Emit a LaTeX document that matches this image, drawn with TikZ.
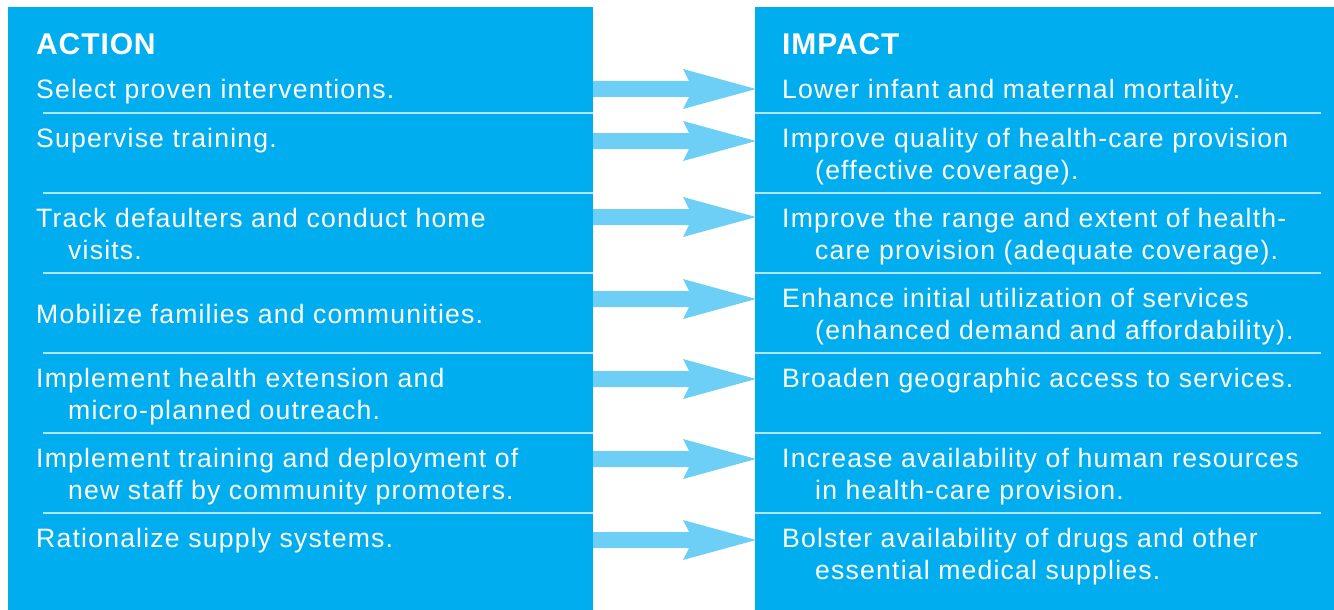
\documentclass[tikz,border=0pt]{standalone}
\usepackage{fontspec}
\setmainfont{Liberation Sans}[LetterSpace=4.5]
\newfontfamily\titlefont{Liberation Sans}[LetterSpace=3]
\definecolor{panelblue}{HTML}{00AEEF}
\definecolor{arrowblue}{HTML}{6DCFF6}
\definecolor{seplight}{HTML}{B3E5FA}
\tikzset{
  panel/.style={fill=panelblue, draw=none},
  sepline/.style={draw=seplight, line width=1.5pt},
  bigarrow/.style={fill=arrowblue, draw=none},
  txt/.style={text=white, inner sep=0pt, anchor=base west, font=\fontsize{26.6}{32}\selectfont},
  ttl/.style={text=white, inner sep=0pt, anchor=base west, font=\titlefont\bfseries\fontsize{30}{36}\selectfont}
}
\begin{document}
\begin{tikzpicture}[x=1pt,y=-1pt]
\useasboundingbox (0,0) rectangle (1334,610);
% panels
\fill[panel] (8,7) rectangle (593,610);
\fill[panel] (755,7) rectangle (1334,610);
% separators
\foreach \yy in {113,193,273,353,433,513}{
  \draw[sepline] (43,\yy) -- (593,\yy);
  \draw[sepline] (755,\yy) -- (1321,\yy);
}
% arrows
\foreach \yc in {89,141,217,299,379,459,540}{
  \fill[bigarrow] (593,{\yc-8}) -- (689,{\yc-8}) -- (683,{\yc-20}) -- (756,\yc)
     -- (683,{\yc+20}) -- (689,{\yc+8}) -- (593,{\yc+8}) -- cycle;
}
% titles
\node[ttl] (actT) at (36,55) {ACTION};
\node[ttl] (impT) at (782,55) {IMPACT};
% action column
\node[txt] (a1) at (36,99) {Select proven interventions.};
\node[txt] (a2) at (36,147) {Supervise training.};
\node[txt] (a3) at (36,227) {Track defaulters and conduct home};
\node[txt] (a3b) at (68,259) {visits.};
\node[txt] (a4) at (36,323) {Mobilize families and communities.};
\node[txt] (a5) at (36,387) {Implement health extension and};
\node[txt] (a5b) at (68,419) {micro-planned outreach.};
\node[txt] (a6) at (36,467) {Implement training and deployment of};
\node[txt] (a6b) at (68,499) {new staff by community promoters.};
\node[txt] (a7) at (36,547) {Rationalize supply systems.};
% impact column
\node[txt] (i1) at (782,99) {Lower infant and maternal mortality.};
\node[txt] (i2) at (782,147) {Improve quality of health-care provision};
\node[txt] (i2b) at (815,179) {(effective coverage).};
\node[txt] (i3) at (782,227) {Improve the range and extent of health-};
\node[txt] (i3b) at (815,259) {care provision (adequate coverage).};
\node[txt] (i4) at (782,307) {Enhance initial utilization of services};
\node[txt] (i4b) at (815,339) {(enhanced demand and affordability).};
\node[txt] (i5) at (782,387) {Broaden geographic access to services.};
\node[txt] (i6) at (782,467) {Increase availability of human resources};
\node[txt] (i6b) at (815,499) {in health-care provision.};
\node[txt] (i7) at (782,547) {Bolster availability of drugs and other};
\node[txt] (i7b) at (815,579) {essential medical supplies.};
\end{tikzpicture}
\end{document}
